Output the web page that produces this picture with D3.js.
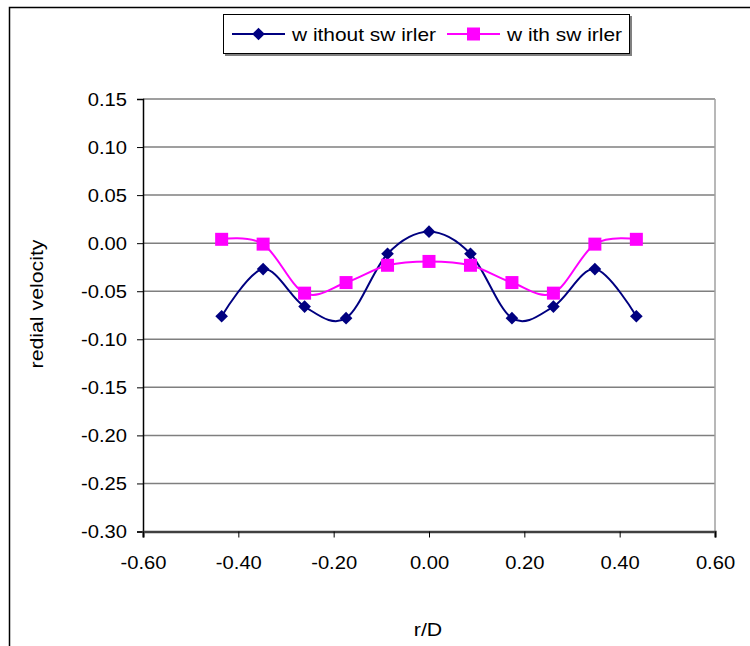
<!DOCTYPE html>
<html><head><meta charset="utf-8">
<script src="https://cdn.jsdelivr.net/npm/d3@7/dist/d3.min.js"></script>
<style>body{margin:0;background:#fff}svg{display:block}text{font-family:"Liberation Sans",Arial,sans-serif}</style>
</head><body>
<svg id="c" width="750" height="646"></svg>
<script>
const rD = [-0.435,-0.348,-0.261,-0.174,-0.087,0,0.087,0.174,0.261,0.348,0.435];
const withoutSwirler = [-0.076,-0.027,-0.066,-0.078,-0.011,0.012,-0.011,-0.078,-0.066,-0.027,-0.076];
const withSwirler = [0.004,-0.001,-0.052,-0.041,-0.023,-0.019,-0.023,-0.041,-0.052,-0.001,0.004];
const xTicks = [-0.60,-0.40,-0.20,0.00,0.20,0.40,0.60];
const yTicks = [0.15,0.10,0.05,0.00,-0.05,-0.10,-0.15,-0.20,-0.25,-0.30];
const seriesNames = ["w ithout sw irler","w ith sw irler"];

const svg = d3.select("#c");
const L=143,R=715,T=99,B=531.5;
const x = d3.scaleLinear().domain([-0.6,0.6]).range([L,R]);
const y = d3.scaleLinear().domain([-0.30,0.15]).range([B,T]);
const fmt = d => d.toFixed(2);
function stretch(sel, f){
  sel.each(function(){
    const w = this.getComputedTextLength();
    d3.select(this).attr("textLength", w*f).attr("lengthAdjust","spacingAndGlyphs");
  });
}

// outer border
svg.append("rect").attr("x",9.5).attr("y",7.5).attr("width",760).attr("height",660)
  .attr("fill","none").attr("stroke","#000").attr("stroke-width",1.5);

// gridlines
svg.append("g").selectAll("line").data(yTicks.filter(d=>d>-0.30)).join("line")
  .attr("x1",L).attr("x2",R).attr("y1",d=>y(d)).attr("y2",d=>y(d))
  .attr("stroke","#7f7f7f").attr("stroke-width",1.5);
// right border of plot
svg.append("line").attr("x1",R).attr("x2",R).attr("y1",T).attr("y2",B)
  .attr("stroke","#a0a0a0").attr("stroke-width",1.5);

// axes
const yAxis = d3.axisLeft(y).tickValues(yTicks).tickFormat(fmt).tickSize(6).tickPadding(10);
const gy = svg.append("g").attr("transform",`translate(${L},0)`).call(yAxis);
const xAxis = d3.axisBottom(x).tickValues(xTicks).tickFormat(fmt).tickSize(6).tickPadding(12);
const gx = svg.append("g").attr("transform",`translate(0,${B})`).call(xAxis);
[gx,gy].forEach(g=>{
  g.select(".domain").attr("stroke","#000").attr("stroke-width",1.5);
  g.selectAll(".tick line").attr("stroke","#000").attr("stroke-width",1);
  g.selectAll(".tick text").attr("font-size",18).attr("fill","#000").style("font-family","Liberation Sans, Arial, sans-serif");
});
gx.select(".domain").attr("stroke","#404040").attr("stroke-width",2.5);
gy.selectAll(".tick text").attr("dy","0.36em").attr("x",-16);
gx.selectAll(".tick text").attr("dy",0).attr("y",37);
stretch(gy.selectAll(".tick text"),1.12);
stretch(gx.selectAll(".tick text"),1.12);

// axis titles
const xt = svg.append("text").attr("x",428).attr("y",636).attr("text-anchor","middle").attr("font-size",19).text("r/D");
const yt = svg.append("text").attr("transform","translate(43,304) rotate(-90)").attr("text-anchor","middle").attr("font-size",19).text("redial velocity");
stretch(xt,1.12); stretch(yt,1.12);

const line = d3.line().x(d=>x(d[0])).y(d=>y(d[1])).curve(d3.curveCatmullRom.alpha(0));
const colors = ["#000080","#ff00ff"];
const data = [rD.map((r,i)=>[r,withoutSwirler[i]]), rD.map((r,i)=>[r,withSwirler[i]])];

data.forEach((ser,k)=>{
  svg.append("path").datum(ser).attr("d",line).attr("fill","none").attr("stroke",colors[k]).attr("stroke-width",2);
});
svg.append("g").selectAll("path").data(data[0]).join("path")
  .attr("d",d3.symbol().type(d3.symbolSquare).size(80)).attr("transform",d=>`translate(${x(d[0])},${y(d[1])}) rotate(45)`)
  .attr("fill",colors[0]);
svg.append("g").selectAll("rect").data(data[1]).join("rect")
  .attr("x",d=>x(d[0])-6.5).attr("y",d=>y(d[1])-6.5).attr("width",13).attr("height",13)
  .attr("fill",colors[1]);

// legend
const lg = svg.append("g");
lg.append("rect").attr("x",225).attr("y",16).attr("width",407).attr("height",40).attr("fill","#808080");
lg.append("rect").attr("x",223.5).attr("y",14.5).attr("width",406).attr("height",39).attr("fill","#fff").attr("stroke","#000").attr("stroke-width",1);
const items = [{x0:232,tx:292},{x0:447,tx:507}];
items.forEach((it,k)=>{
  lg.append("line").attr("x1",it.x0).attr("x2",it.x0+53).attr("y1",34).attr("y2",34).attr("stroke",colors[k]).attr("stroke-width",2);
  if(k===0){
    lg.append("path").attr("d",d3.symbol().type(d3.symbolSquare).size(80)).attr("transform",`translate(${it.x0+26.5},34) rotate(45)`).attr("fill",colors[0]);
  } else {
    lg.append("rect").attr("x",it.x0+26.5-6.5).attr("y",34-6.5).attr("width",13).attr("height",13).attr("fill",colors[1]);
  }
  const t = lg.append("text").attr("x",it.tx).attr("y",41).attr("font-size",19).text(seriesNames[k]);
  stretch(t,1.1);
});
</script>
</body></html>
